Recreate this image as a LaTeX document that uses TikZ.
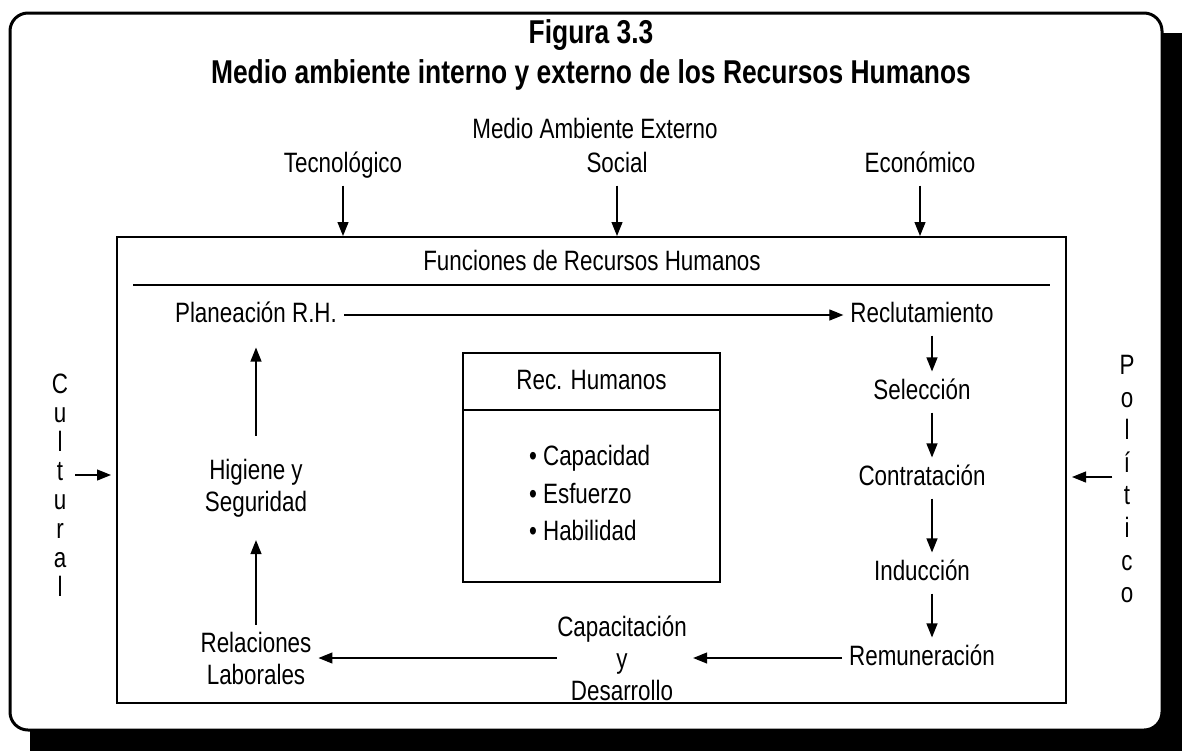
\documentclass[tikz,border=0pt]{standalone}
\usepackage{fontspec}
\setmainfont{Liberation Sans}[FakeStretch=0.8]
\usetikzlibrary{arrows.meta,positioning}

\begin{document}
\begin{tikzpicture}[x=0.5pt,y=-0.5pt,on grid,
    txt/.style={font=\fontsize{14pt}{16pt}\selectfont, align=center},
    one/.style={txt, text height=10.5pt, text depth=3pt},
    ttl/.style={font=\fontsize{16.5pt}{18pt}\selectfont\bfseries},
    arr/.style={-{Triangle[length=7pt,width=5.5pt]}, line width=0.6pt}]
    \useasboundingbox (0,0) rectangle (1182,750);
    \clip (0,0) rectangle (1182,750);
    % frame and its shadow
    \fill[rounded corners=9pt] (30,33) rectangle (1200,770);
    \draw[line width=1.5pt, fill=white, rounded corners=9pt] (10,13) rectangle (1162,730);

    \node[ttl] (fig) at (591,35) {Figura 3.3};
    \node[ttl, below=20pt of fig] (title) {Medio ambiente interno y externo de los Recursos Humanos};

    \node[one] (medio) at (595,131) {Medio Ambiente Externo};
    \node[one, below left=17pt and 126pt of medio] (tec) {Tecnológico};
    \node[one, below right=17pt and 11pt of medio] (social) {Social};
    \node[one, below right=17pt and 162.5pt of medio] (econ) {Económico};

    \node[draw, line width=1pt, minimum width=474.5pt, minimum height=233pt, inner sep=0pt] (box) at (591.5,470) {};
    \node[one] (func) at (592,263) {Funciones de Recursos Humanos};
    \draw[line width=1pt] (133,285) -- (1050,285);

    \foreach \src in {tec,social,econ}
        \draw[arr] (\src.south) -- (\src.south |- box.north);

    \node[one] (reclut) at (922,315) {Reclutamiento};
    \node[one, below=38.5pt of reclut] (sel) {Selección};
    \node[one, below=43pt of sel] (contr) {Contratación};
    \node[one, below=47.5pt of contr] (induc) {Inducción};
    \node[one, below=42.5pt of induc] (remun) {Remuneración};
    \node[txt, left=150pt of remun, inner sep=0pt] (capac) {Capacitación\\y\\Desarrollo};
    \node[txt, left=183pt of capac] (rel) {Relaciones\\Laborales};
    \node[txt, above=85pt of rel] (hig) {Higiene y\\Seguridad};
    \node[one, above=86.5pt of hig] (plan) {Planeación R.H.};

    \draw[arr] (plan) -- (reclut);
    \draw[arr] ([xshift=5pt]reclut.south) -- ([xshift=5pt]sel.north);
    \draw[arr] ([xshift=5pt]sel.south) -- ([xshift=5pt]contr.north);
    \draw[arr] ([xshift=5pt]contr.south) -- ([xshift=5pt]induc.north);
    \draw[arr] ([xshift=5pt]induc.south) -- ([xshift=5pt]remun.north);
    \draw[arr, shorten >=3pt] (remun) -- (capac);
    \draw[arr] (capac) -- (rel);
    \draw[arr, shorten >=8pt] (rel) -- (hig);
    \draw[arr, shorten <=8pt, shorten >=6pt] (hig) -- (plan);

    % recursos humanos
    \node[draw, line width=0.8pt, minimum width=128.5pt, minimum height=114.5pt, inner sep=0pt] (rec) at (591.5,467.5) {};
    \draw[line width=0.8pt] (rec.west |- 0,410) -- (rec.east |- 0,410);
    \node[one] (rechead) at (591.5,382) {Rec. Humanos};
    \node[txt, align=left, anchor=west, font=\fontsize{14pt}{18.75pt}\selectfont] (reclist) at (522,493)
        {\textbullet\ Capacidad\\\textbullet\ Esfuerzo\\\textbullet\ Habilidad};

    % fuerzas laterales
    \node[align=center, font=\fontsize{14pt}{14.5pt}\selectfont] (cult) at (60,485) {C\\u\\l\\t\\u\\r\\a\\l};
    \node[align=center, font=\fontsize{14pt}{16.3pt}\selectfont] (poli) at (1127,479) {P\\o\\l\\í\\t\\i\\c\\o};
    \draw[arr, shorten >=2.5pt] ([yshift=5pt]cult.east) -- ([yshift=5pt]cult.east -| box.west);
    \draw[arr, shorten >=2.5pt] ([yshift=1pt]poli.west) -- ([yshift=1pt]poli.west -| box.east);
\end{tikzpicture}
\end{document}
